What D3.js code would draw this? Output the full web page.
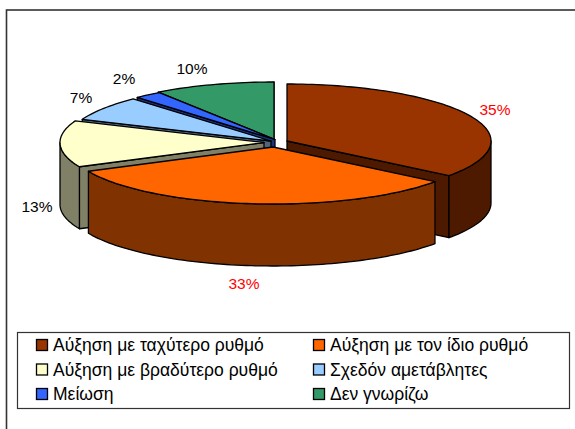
<!DOCTYPE html>
<html>
<head>
<meta charset="utf-8">
<script src="https://cdn.jsdelivr.net/npm/d3@7"></script>
<style>
    body { margin: 0; background: #fff; }
    text { font-family: "Liberation Sans", Arial, sans-serif; }
</style>
</head>
<body>
<svg id="chart" width="575" height="429"></svg>
<script>
const categories = ['Αύξηση με ταχύτερο ρυθμό', 'Αύξηση με τον ίδιο ρυθμό', 'Αύξηση με βραδύτερο ρυθμό',
    'Σχεδόν αμετάβλητες', 'Μείωση', 'Δεν γνωρίζω'];
// estimated from the slice edges, the labels show them rounded
const shares = [35.4, 32.6, 13.2, 7, 2.2, 9.6];
const colors = ['#993300', '#FF6600', '#FFFFCC', '#99CCFF', '#3366FF', '#339966'];
const labelColors = ['#FF0000', '#FF0000', '#000000', '#000000', '#000000', '#000000'];

// layout
const rx = 204, ry = 57, depth = 62;
const centers = [[287, 141], [273, 147], [264, 142.5], [271, 141], [275, 139.5], [274, 139]];
const labelPos = [[495, 109], [244, 283], [37, 206], [81, 97], [124, 78], [192, 68]];
const drawOrder = [5, 4, 3, 0, 2, 1];

const svg = d3.select('#chart');

svg.append('rect').attr('x', 6.5).attr('y', 10).attr('width', 600).attr('height', 500)
    .attr('fill', '#fff').attr('stroke', '#333').attr('stroke-width', 1.6);

const slices = d3.pie().sort(null).value(d => d)(shares);

const px = (c, a) => c[0] + rx * Math.sin(a);
const py = (c, a) => c[1] - ry * Math.cos(a);
const line = d3.line();

function rimPoints(c, a0, a1, dy) {
    const n = Math.max(2, Math.ceil((a1 - a0) * 40));
    return d3.range(n + 1).map(i => {
        const a = a0 + (a1 - a0) * i / n;
        return [px(c, a), py(c, a) + dy];
    });
}

function shape(points, fill) {
    svg.append('path').attr('d', line(points) + 'Z')
        .attr('fill', fill).attr('stroke', '#000').attr('stroke-width', 1.3)
        .attr('stroke-linejoin', 'round');
}

function wall(c, a, fill) {
    shape([[c[0], c[1]], [px(c, a), py(c, a)], [px(c, a), py(c, a) + depth], [c[0], c[1] + depth]], fill);
}

drawOrder.forEach(i => {
    const s = slices[i], c = centers[i];
    const base = d3.color(colors[i]);
    const dark = d3.rgb(base.r * 0.5, base.g * 0.5, base.b * 0.5).formatHex();

    // radial walls, only the ones turned towards the viewer
    if (Math.sin(s.startAngle) < 0) wall(c, s.startAngle, dark);
    if (Math.sin(s.endAngle) > 0) wall(c, s.endAngle, dark);

    // outer wall, only the part facing the viewer
    const a0 = Math.max(s.startAngle, Math.PI / 2), a1 = Math.min(s.endAngle, 3 * Math.PI / 2);
    if (a1 > a0) {
        shape(rimPoints(c, a0, a1, 0).concat(rimPoints(c, a0, a1, depth).reverse()), dark);
    }

    shape([[c[0], c[1]]].concat(rimPoints(c, s.startAngle, s.endAngle, 0)), colors[i]);
});

svg.selectAll('text.value').data(shares).join('text')
    .attr('class', 'value')
    .attr('x', (d, i) => labelPos[i][0])
    .attr('y', (d, i) => labelPos[i][1])
    .attr('dy', '0.36em')
    .attr('text-anchor', 'middle')
    .attr('font-size', 15.5)
    .attr('fill', (d, i) => labelColors[i])
    .text(d => d3.format('.0f')(d) + '%');

// legend
svg.append('rect').attr('x', 17.5).attr('y', 332.5).attr('width', 552).attr('height', 76)
    .attr('fill', '#fff').attr('stroke', '#333').attr('stroke-width', 1.2);

const legendX = d3.scalePoint().domain([0, 1]).range([36, 313]);
const legendY = d3.scalePoint().domain([0, 1, 2]).range([345, 394]);

const items = svg.selectAll('g.item').data(categories).join('g')
    .attr('class', 'item')
    .attr('transform', (d, i) => `translate(${legendX(i % 2)},${legendY(Math.floor(i / 2))})`);
items.append('rect').attr('x', 0.5).attr('y', -5.5).attr('width', 11).attr('height', 11)
    .attr('fill', (d, i) => colors[i]).attr('stroke', '#000').attr('stroke-width', 1.3);
items.append('text').attr('x', 17).attr('dy', '0.36em').attr('font-size', 17.5).text(d => d);
</script>
</body>
</html>
